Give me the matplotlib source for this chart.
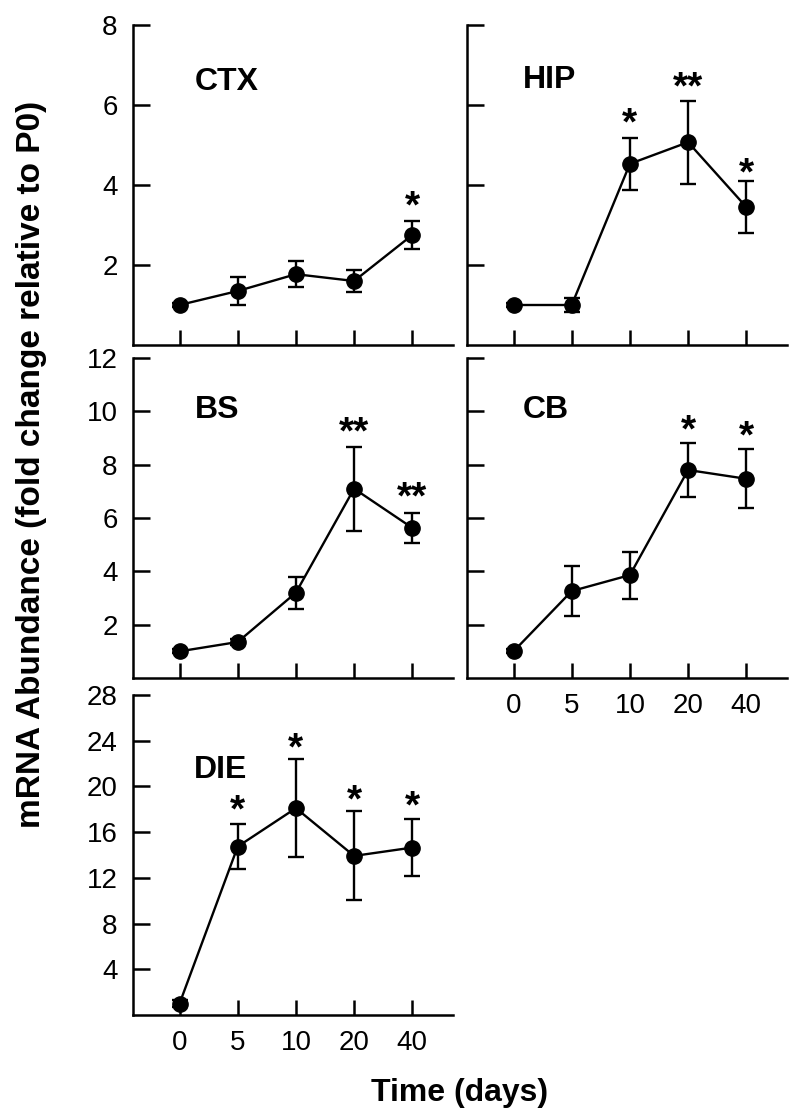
import matplotlib
matplotlib.use('Agg')
import matplotlib.pyplot as plt

plt.rcParams['font.family'] = 'Liberation Sans'

days = ['0', '5', '10', '20', '40']

ctx_mean = [1.0, 1.35, 1.77, 1.6, 2.75]
ctx_err = [0.06, 0.35, 0.33, 0.27, 0.36]
ctx_sig = ['', '', '', '', '*']
ctx_sig_y = [0, 0, 0, 0, 3.73]

hip_mean = [1.0, 1.0, 4.53, 5.07, 3.45]
hip_err = [0.06, 0.17, 0.65, 1.04, 0.66]
hip_sig = ['', '', '*', '**', '*']
hip_sig_y = [0, 0, 5.8, 6.7, 4.55]

bs_mean = [1.0, 1.35, 3.2, 7.1, 5.63]
bs_err = [0.08, 0.12, 0.6, 1.58, 0.57]
bs_sig = ['', '', '', '**', '**']
bs_sig_y = [0, 0, 0, 9.6, 7.15]

cb_mean = [1.0, 3.26, 3.86, 7.8, 7.47]
cb_err = [0.08, 0.93, 0.88, 1.0, 1.1]
cb_sig = ['', '', '', '*', '*']
cb_sig_y = [0, 0, 0, 9.68, 9.45]

die_mean = [1.0, 14.74, 18.1, 13.92, 14.65]
die_err = [0.3, 2.0, 4.3, 3.9, 2.48]
die_sig = ['', '*', '*', '*', '*']
die_sig_y = [0, 18.8, 24.2, 19.7, 19.2]

# name, mean, err, stars, star heights, ymax, yticks, show y labels, show x labels, axes corner (px), label pos
panels = [
    ('CTX', ctx_mean, ctx_err, ctx_sig, ctx_sig_y, 8, [2, 4, 6, 8], True, False,
     [133, 25], (0.194, 0.822)),
    ('HIP', hip_mean, hip_err, hip_sig, hip_sig_y, 8, [2, 4, 6, 8], False, False,
     [467, 25], (0.175, 0.828)),
    ('BS', bs_mean, bs_err, bs_sig, bs_sig_y, 12, [2, 4, 6, 8, 10, 12], True, False,
     [133, 358], (0.194, 0.8375)),
    ('CB', cb_mean, cb_err, cb_sig, cb_sig_y, 12, [2, 4, 6, 8, 10, 12], False, True,
     [467, 358], (0.175, 0.8375)),
    ('DIE', die_mean, die_err, die_sig, die_sig_y, 28, [4, 8, 12, 16, 20, 24, 28], True, True,
     [133, 695], (0.19, 0.766)),
]

W, H = 800, 1120
fig = plt.figure(figsize=(W / 100, H / 100), dpi=100)

x = list(range(len(days)))
for name, mean, err, sig, sig_y, ymax, yt, ylab, xlab, (left, top), lpos in panels:
    ax = fig.add_axes([left / W, 1 - (top + 320) / H, 320 / W, 320 / H])
    ax.errorbar(x, mean, yerr=err, color='black', lw=1.7, marker='o', ms=11,
                capsize=6, capthick=1.7, elinewidth=1.7, zorder=3)
    for i in range(len(x)):
        if sig[i]:
            ax.annotate(sig[i], (x[i], sig_y[i]), xytext=(0, -15.5), textcoords='offset points',
                        ha='center', va='baseline', fontsize=28, fontweight='bold')
    ax.text(lpos[0], lpos[1], name, transform=ax.transAxes, ha='left', va='center',
            fontsize=23, fontweight='bold')
    ax.set_xlim(-0.8, 4.7)
    ax.set_ylim(0, ymax)
    ax.set_yticks(yt)
    ax.set_xticks(x)
    ax.set_xticklabels(days)
    for s in ['top', 'right']:
        ax.spines[s].set_visible(False)
    for s in ['left', 'bottom']:
        ax.spines[s].set_linewidth(1.8)
    ax.tick_params(axis='y', direction='in', length=12, width=1.8, labelsize=20, pad=11,
                   labelleft=ylab)
    ax.tick_params(axis='x', direction='in', length=11, width=1.8, labelsize=20, pad=11,
                   labelbottom=xlab)

fig.text(0.039, 1 - 464 / H, 'mRNA Abundance (fold change relative to P0)', rotation=90,
         ha='center', va='center', fontsize=24, fontweight='bold')
fig.text(460 / W, 1 - 1101 / H, 'Time (days)', ha='center', va='baseline',
         fontsize=23, fontweight='bold')

fig.savefig('out.png', dpi=100)
